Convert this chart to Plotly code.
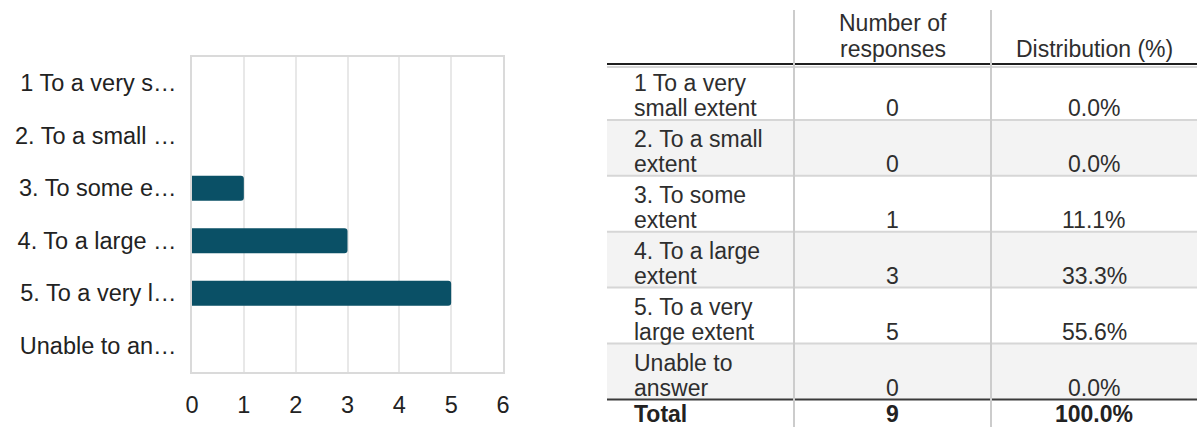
import plotly.graph_objects as go

# Survey answer categories and counts
categories = [
    "1 To a very small extent",
    "2. To a small extent",
    "3. To some extent",
    "4. To a large extent",
    "5. To a very large extent",
    "Unable to answer",
]
axis_labels = [
    "1 To a very s…",
    "2. To a small …",
    "3. To some e…",
    "4. To a large …",
    "5. To a very l…",
    "Unable to an…",
]
table_label_lines = [
    ["1 To a very", "small extent"],
    ["2. To a small", "extent"],
    ["3. To some", "extent"],
    ["4. To a large", "extent"],
    ["5. To a very", "large extent"],
    ["Unable to", "answer"],
]
responses = [0, 0, 1, 3, 5, 0]
distribution = ["0.0%", "0.0%", "11.1%", "33.3%", "55.6%", "0.0%"]
total_label = "Total"
total_responses = 9
total_distribution = "100.0%"
header_number = ["Number of", "responses"]
header_distribution = "Distribution (%)"
x_ticks = [0, 1, 2, 3, 4, 5, 6]

W, H = 1197, 427
FONT = "Arial, Liberation Sans, sans-serif"
BAR_COLOR = "#0a5066"
TEXT = "#2e2e2e"

fig = go.Figure()

# ---------- bar chart ----------
fig.add_trace(go.Bar(
    x=responses, y=categories, orientation="h",
    marker=dict(color=BAR_COLOR, cornerradius=3, line=dict(width=0)),
    hoverinfo="x+y", showlegend=False,
    xaxis="x", yaxis="y",
))

# ---------- table (drawn on its own hidden axes in row units) ----------
ROW_PX = 55.9
HEAD_PX = 64.0
TABLE_LEFT = 607.0
col_edges = [0, 187, 384, W - TABLE_LEFT]
col1_x = 25
col2_x = (col_edges[1] + col_edges[2]) / 2
col3_x = (col_edges[2] + col_edges[3]) / 2
n_rows = len(categories)

shapes = []
annotations = []

def row_rect(i, color):
    shapes.append(dict(type="rect", xref="x2", yref="y2", x0=col_edges[0], x1=col_edges[3],
                       y0=i, y1=i + 1, fillcolor=color, line=dict(width=0), layer="below"))

def hline(y, color, width):
    shapes.append(dict(type="line", xref="x2", yref="y2", x0=col_edges[0], x1=col_edges[3],
                       y0=y, y1=y, line=dict(color=color, width=width)))

for i in range(n_rows):
    if i % 2 == 1:
        row_rect(i, "#f3f3f3")
for i in range(1, n_rows):
    hline(i, "#d6d6d6", 2)
hline(3 / ROW_PX, "#d6d6d6", 2)
hline(0, "#1f1f1f", 2)
hline(n_rows, "#3a3a3a", 2)
for xe in col_edges[1:3]:
    shapes.append(dict(type="line", xref="x2", yref="y2", x0=xe, x1=xe,
                       y0=-(HEAD_PX - 10) / ROW_PX, y1=n_rows + 1,
                       line=dict(color="#cccccc", width=2)))

LINE1 = 0.34
LINE2 = 0.79
TSIZE = 23

def cell(x, y, text, align="left", bold=False, color=TEXT, size=TSIZE):
    annotations.append(dict(
        xref="x2", yref="y2", x=x, y=y, text=f"<b>{text}</b>" if bold else text,
        showarrow=False, xanchor=align, yanchor="middle",
        font=dict(family=FONT, size=size, color=color),
    ))

# header
cell(col2_x, -0.73, header_number[0], align="center")
cell(col2_x, -0.27, header_number[1], align="center")
cell(col3_x, -0.27, header_distribution, align="center")

# data rows
for i in range(n_rows):
    l1, l2 = table_label_lines[i]
    cell(col1_x, i + LINE1, l1)
    cell(col1_x, i + LINE2, l2)
    cell(col2_x, i + LINE2, str(responses[i]), align="center")
    cell(col3_x, i + LINE2, distribution[i], align="center")

# total row
cell(col1_x, n_rows + 0.26, total_label, bold=True, color="#222222")
cell(col2_x, n_rows + 0.26, str(total_responses), align="center", bold=True, color="#222222")
cell(col3_x, n_rows + 0.26, total_distribution, align="center", bold=True, color="#222222")

plot_left, plot_right = 192, 503
plot_top, plot_bottom = 57, 372
frame = dict(showline=True, mirror=True, linecolor="#dadada", linewidth=1.5)

fig.update_layout(
    width=W, height=H,
    margin=dict(l=0, r=0, t=0, b=0),
    paper_bgcolor="white", plot_bgcolor="white",
    font=dict(family=FONT, size=23.5, color="#222222"),
    bargap=0.524,
    xaxis=dict(
        domain=[plot_left / W, plot_right / W], range=[0, 6],
        tickmode="array", tickvals=x_ticks, ticks="",
        showgrid=True, gridcolor="#e8e8e8", gridwidth=1.5,
        zeroline=False, automargin=False, fixedrange=True,
        tickfont=dict(size=23.5, color="#222222"), ticklabelstandoff=11,
        anchor="y", **frame,
    ),
    yaxis=dict(
        domain=[(H - plot_bottom) / H, (H - plot_top) / H],
        categoryorder="array", categoryarray=categories, autorange="reversed",
        tickmode="array", tickvals=categories, ticktext=axis_labels, ticks="",
        showgrid=False, zeroline=False, automargin=False,
        tickfont=dict(size=23.5, color="#222222"), ticklabelstandoff=9,
        fixedrange=True, anchor="x", **frame,
    ),
    xaxis2=dict(
        domain=[TABLE_LEFT / W, 1], range=[0, W - TABLE_LEFT], visible=False,
        fixedrange=True, anchor="y2",
    ),
    yaxis2=dict(
        domain=[0, 1], range=[(H - HEAD_PX) / ROW_PX, -HEAD_PX / ROW_PX], visible=False,
        fixedrange=True, anchor="x2",
    ),
    shapes=shapes,
    annotations=annotations,
)

fig.write_html("out.html", config={"displayModeBar": False})
